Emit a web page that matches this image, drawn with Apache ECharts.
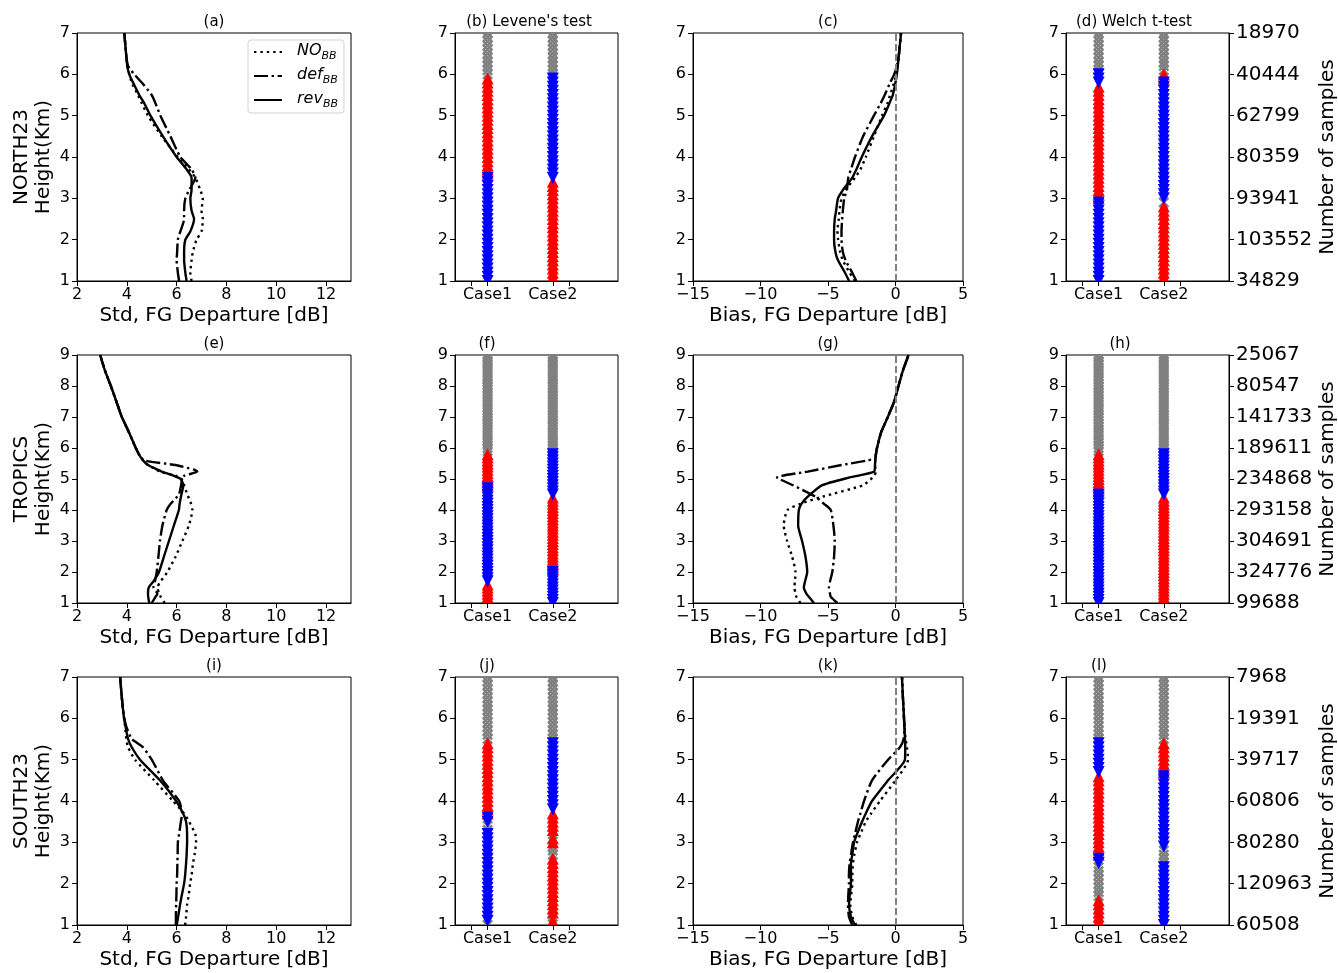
<!DOCTYPE html>
<html>
<head>
<meta charset="utf-8">
<script src="https://cdn.jsdelivr.net/npm/echarts@6/dist/echarts.min.js"></script>
<style>
html, body { margin: 0; padding: 0; background: #fff; }
#chart { width: 1338px; height: 973px; }
</style>
</head>
<body>
<div id="chart"></div>
<script>
// ---------------- data ----------------
const ROW_NAMES = ['NORTH23', 'TROPICS', 'SOUTH23'];
const PANEL_TITLES = [
  '(a)', "(b) Levene's test", '(c)', '(d) Welch t-test',
  '(e)', '(f)', '(g)', '(h)',
  '(i)', '(j)', '(k)', '(l)'
];
const CASE_NAMES = ['Case1', 'Case2'];
const CASE_POS = [1, 3];
const CASE_TICKS = [0.5, 1, 3, 3.5];
const HEIGHT_MAX = [7, 9, 7];
const STD_TICKS = [2, 4, 6, 8, 10, 12];

// number of samples per integer height (1 km, 2 km, ...)
const SAMPLES_NORTH = [34829, 103552, 93941, 80359, 62799, 40444, 18970];
const SAMPLES_TROPICS = [99688, 324776, 304691, 293158, 234868, 189611, 141733, 80547, 25067];
const SAMPLES_SOUTH = [60508, 120963, 80280, 60806, 39717, 19391, 7968];

// heights (km) of the profile points
const H_NORTH = [1.0, 1.2, 1.5, 1.7, 2.0, 2.2, 2.5, 2.7, 3.0, 3.2, 3.5, 3.7, 4.0, 4.5, 5.0, 5.3, 5.5, 5.8, 6.0, 6.2, 6.5, 7.0];
const H_SOUTH = H_NORTH;
const H_TROP_STD = [1.0, 1.2, 1.3, 1.5, 1.7, 2.0, 2.5, 3.0, 3.5, 4.0, 4.2, 4.5, 4.8, 5.0, 5.1, 5.24, 5.3, 5.45, 5.6, 5.75, 6.0, 6.5, 7.0, 7.5, 8.0, 8.5, 9.0];
const H_TROP_BIAS = [1.0, 1.2, 1.3, 1.5, 1.7, 2.0, 2.5, 3.0, 3.5, 4.0, 4.2, 4.43, 4.8, 5.05, 5.24, 5.45, 5.66, 5.8, 6.0, 6.5, 7.0, 7.5, 8.0, 8.5, 9.0];

// std of FG departure [dB]
const STD_N_NO  = [6.6, 6.55, 6.6, 6.65, 6.8, 7.0, 7.05, 7.0, 7.05, 6.95, 6.75, 6.5, 6.05, 5.4, 4.85, 4.6, 4.45, 4.2, 4.1, 4.02, 3.97, 3.9];
const STD_N_DEF = [6.1, 6.05, 6.0, 6.02, 6.05, 6.15, 6.3, 6.3, 6.35, 6.5, 6.75, 6.6, 6.15, 5.75, 5.35, 5.15, 5.0, 4.6, 4.3, 4.05, 3.97, 3.9];
const STD_N_REV = [6.4, 6.35, 6.3, 6.3, 6.35, 6.55, 6.7, 6.6, 6.55, 6.6, 6.6, 6.4, 6.0, 5.45, 4.95, 4.7, 4.5, 4.25, 4.1, 4.02, 3.97, 3.9];

const STD_T_NO  = [5.52, 5.36, 5.3, 5.23, 5.36, 5.63, 5.96, 6.23, 6.49, 6.63, 6.58, 6.43, 6.3, 6.2, 6.0, 5.3, 5.2, 4.85, 4.65, 4.52, 4.36, 4.09, 3.8, 3.58, 3.36, 3.12, 2.93];
const STD_T_DEF = [5.0, 5.15, 5.23, 5.07, 5.13, 5.2, 5.27, 5.33, 5.43, 5.6, 5.76, 6.09, 6.18, 6.22, 6.3, 6.83, 6.7, 5.95, 4.7, 4.52, 4.36, 4.09, 3.8, 3.58, 3.36, 3.12, 2.93];
const STD_T_REV = [4.9, 4.86, 4.85, 4.88, 5.07, 5.29, 5.49, 5.69, 5.89, 6.09, 6.12, 6.19, 6.27, 6.16, 5.89, 5.4, 5.23, 4.85, 4.65, 4.52, 4.36, 4.09, 3.8, 3.58, 3.36, 3.12, 2.93];

const STD_S_NO  = [6.34, 6.38, 6.42, 6.48, 6.54, 6.6, 6.66, 6.72, 6.78, 6.75, 6.5, 6.3, 5.85, 5.1, 4.33, 4.05, 3.98, 3.93, 3.89, 3.85, 3.8, 3.73];
const STD_S_DEF = [5.97, 5.97, 5.98, 5.99, 6.0, 6.02, 6.03, 6.04, 6.05, 6.1, 6.17, 6.22, 6.1, 5.45, 5.0, 4.65, 4.2, 3.98, 3.9, 3.85, 3.8, 3.73];
const STD_S_REV = [6.0, 6.06, 6.14, 6.2, 6.3, 6.34, 6.38, 6.4, 6.42, 6.42, 6.38, 6.26, 5.98, 5.33, 4.53, 4.2, 4.05, 3.95, 3.89, 3.85, 3.8, 3.73];

// bias of FG departure [dB]
const BIAS_N_NO  = [-3.0, -3.4, -3.9, -4.1, -4.25, -4.3, -4.2, -4.15, -4.0, -3.7, -3.0, -2.6, -2.2, -1.6, -1.0, -0.6, -0.4, -0.1, 0.05, 0.15, 0.26, 0.41];
const BIAS_N_DEF = [-2.9, -3.2, -3.7, -3.9, -4.0, -4.0, -3.95, -3.9, -3.8, -3.6, -3.5, -3.3, -3.0, -2.4, -1.6, -1.1, -0.8, -0.4, -0.1, 0.1, 0.26, 0.41];
const BIAS_N_REV = [-3.44, -3.74, -4.26, -4.45, -4.55, -4.55, -4.5, -4.4, -4.26, -3.9, -3.2, -2.9, -2.5, -1.74, -0.85, -0.45, -0.2, 0.0, 0.1, 0.17, 0.26, 0.41];

const BIAS_T_NO  = [-7.04, -7.34, -7.4, -7.49, -7.45, -7.41, -7.66, -8.03, -8.28, -8.0, -7.04, -5.4, -2.4, -1.7, -1.44, -1.52, -1.49, -1.45, -1.37, -1.07, -0.57, -0.1, 0.22, 0.55, 0.97];
const BIAS_T_DEF = [-4.3, -4.8, -4.85, -4.93, -4.85, -4.68, -4.55, -4.5, -4.6, -4.8, -5.3, -5.92, -7.6, -8.78, -6.5, -4.0, -1.5, -1.45, -1.37, -1.07, -0.57, -0.1, 0.22, 0.55, 0.97];
const BIAS_T_REV = [-6.04, -6.42, -6.6, -6.79, -6.7, -6.54, -6.67, -6.92, -7.21, -7.16, -6.97, -6.5, -5.42, -3.4, -1.57, -1.52, -1.49, -1.45, -1.37, -1.07, -0.57, -0.1, 0.22, 0.55, 0.97];

const BIAS_S_NO  = [-2.9, -3.2, -3.35, -3.3, -3.2, -3.2, -3.15, -3.05, -2.85, -2.6, -2.2, -1.8, -1.15, 0.0, 0.93, 0.85, 0.75, 0.66, 0.63, 0.6, 0.55, 0.48];
const BIAS_S_DEF = [-3.2, -3.45, -3.52, -3.5, -3.45, -3.45, -3.4, -3.3, -3.15, -3.0, -2.78, -2.6, -2.33, -1.74, -0.55, 0.33, 0.6, 0.66, 0.63, 0.6, 0.55, 0.48];
const BIAS_S_REV = [-3.0, -3.3, -3.44, -3.4, -3.3, -3.3, -3.3, -3.2, -3.07, -2.85, -2.48, -2.2, -1.74, -0.55, 0.7, 0.72, 0.7, 0.66, 0.63, 0.6, 0.55, 0.48];

// significance per 0.1 km level: [result, from km, to km]
// R = larger (up), B = smaller (down), G = not significant
const LEVENE_N_C1 = [['B', 1.0, 3.5], ['R', 3.6, 5.9], ['G', 6.0, 7.0]];
const LEVENE_N_C2 = [['R', 1.0, 3.4], ['B', 3.5, 5.9], ['G', 6.0, 7.0]];
const WELCH_N_C1  = [['B', 1.0, 2.9], ['R', 3.0, 5.7], ['B', 5.8, 6.0], ['G', 6.1, 7.0]];
const WELCH_N_C2  = [['R', 1.0, 2.8], ['G', 2.9, 2.9], ['B', 3.0, 5.8], ['R', 5.9, 6.0], ['G', 6.1, 7.0]];
const LEVENE_T_C1 = [['R', 1.0, 1.6], ['B', 1.7, 4.7], ['R', 4.8, 5.8], ['G', 5.9, 9.0]];
const LEVENE_T_C2 = [['B', 1.0, 2.0], ['R', 2.1, 4.4], ['B', 4.5, 5.8], ['G', 5.9, 9.0]];
const WELCH_T_C1  = [['B', 1.0, 4.5], ['R', 4.6, 5.8], ['G', 5.9, 9.0]];
const WELCH_T_C2  = [['R', 1.0, 4.4], ['B', 4.5, 5.8], ['G', 5.9, 9.0]];
const LEVENE_S_C1 = [['G', 1.0, 1.0], ['B', 1.1, 3.2], ['G', 3.3, 3.4], ['B', 3.5, 3.6], ['R', 3.7, 5.4], ['G', 5.5, 7.0]];
const LEVENE_S_C2 = [['R', 1.0, 1.1], ['G', 1.2, 1.2], ['R', 1.3, 2.6], ['G', 2.7, 2.9], ['R', 3.0, 3.1], ['G', 3.2, 3.2], ['R', 3.3, 3.7], ['B', 3.8, 5.4], ['G', 5.5, 7.0]];
const WELCH_S_C1  = [['R', 1.0, 1.6], ['G', 1.7, 2.4], ['B', 2.5, 2.6], ['R', 2.7, 4.6], ['B', 4.7, 5.4], ['G', 5.5, 7.0]];
const WELCH_S_C2  = [['B', 1.0, 2.4], ['G', 2.5, 2.8], ['B', 2.9, 4.6], ['R', 4.7, 5.4], ['G', 5.5, 7.0]];

// ---------------- layout & style ----------------
const FONT = 'DejaVu Sans';
const RED = '#ff0000', BLUE = '#0000ff', GRAY = '#808080';
const COL_LEFT = [77, 455, 693, 1066];
const COL_WIDTH = [274, 163, 270, 163];
const ROW_TOP = [33, 355, 677];
const ROW_HEIGHT = 248;
const TITLE_X = [
  [214, 529, 828, 1134],
  [214, 487, 828, 1120],
  [214, 487, 828, 1099]
];
const LINE_TYPES = { NO_BB: [2.4, 4], def_BB: [14, 3.6, 2.4, 3.6], rev_BB: 'solid' };

const SAMPLES = [SAMPLES_NORTH, SAMPLES_TROPICS, SAMPLES_SOUTH];
const PROFILE_H = [[H_NORTH, H_NORTH], [H_TROP_STD, H_TROP_BIAS], [H_SOUTH, H_SOUTH]];
const STD = [[STD_N_NO, STD_N_DEF, STD_N_REV], [STD_T_NO, STD_T_DEF, STD_T_REV], [STD_S_NO, STD_S_DEF, STD_S_REV]];
const BIAS = [[BIAS_N_NO, BIAS_N_DEF, BIAS_N_REV], [BIAS_T_NO, BIAS_T_DEF, BIAS_T_REV], [BIAS_S_NO, BIAS_S_DEF, BIAS_S_REV]];
const LEVENE = [[LEVENE_N_C1, LEVENE_N_C2], [LEVENE_T_C1, LEVENE_T_C2], [LEVENE_S_C1, LEVENE_S_C2]];
const WELCH = [[WELCH_N_C1, WELCH_N_C2], [WELCH_T_C1, WELCH_T_C2], [WELCH_S_C1, WELCH_S_C2]];
const SERIES_NAMES = ['NO_BB', 'def_BB', 'rev_BB'];

const minus = v => (v < 0 ? '\u2212' + (-v) : String(v));

// expand [result, from, to] runs into one point per 0.1 km level
function levels(runs, x, kind) {
  const out = [];
  runs.forEach(([k, a, b]) => {
    if (k !== kind) return;
    for (let t = Math.round(a * 10); t <= Math.round(b * 10); t++) out.push([x, t / 10]);
  });
  return out;
}

function markRenderer(kind) {
  return function (params, api) {
    const p = api.coord([api.value(0), api.value(1)]);
    const s = 6;
    if (kind === 'G') {
      const d = 4.6;
      return {
        type: 'group',
        children: [
          { type: 'line', shape: { x1: p[0] - d, y1: p[1] - d, x2: p[0] + d, y2: p[1] + d }, style: { stroke: GRAY, lineWidth: 2.4 } },
          { type: 'line', shape: { x1: p[0] - d, y1: p[1] + d, x2: p[0] + d, y2: p[1] - d }, style: { stroke: GRAY, lineWidth: 2.4 } }
        ]
      };
    }
    const pts = kind === 'R'
      ? [[p[0], p[1] - s], [p[0] - s, p[1] + s], [p[0] + s, p[1] + s]]
      : [[p[0], p[1] + s], [p[0] - s, p[1] - s], [p[0] + s, p[1] - s]];
    return { type: 'polygon', shape: { points: pts }, style: { fill: kind === 'R' ? RED : BLUE } };
  };
}

const grid = [], xAxis = [], yAxis = [], series = [], title = [];

for (let r = 0; r < 3; r++) {
  for (let c = 0; c < 4; c++) {
    const g = r * 4 + c;
    grid.push({
      left: COL_LEFT[c], top: ROW_TOP[r], width: COL_WIDTH[c], height: ROW_HEIGHT,
      show: true, borderColor: '#000', borderWidth: 1, backgroundColor: '#fff',
      containLabel: false, outerBoundsMode: 'none'
    });
    title.push({
      text: PANEL_TITLES[g], left: TITLE_X[r][c], top: ROW_TOP[r] - 18, textAlign: 'center',
      padding: 0,
      textStyle: { fontFamily: FONT, fontSize: 15, fontWeight: 'normal', color: '#000' }
    });

    const axisCommon = {
      gridIndex: g, type: 'value',
      axisLine: { show: true, onZero: false, lineStyle: { color: '#000', width: 1 } },
      axisTick: { show: true, length: 5, lineStyle: { color: '#000', width: 1 } },
      splitLine: { show: false },
      nameTextStyle: { fontFamily: FONT, fontSize: 20, color: '#000' }
    };

    // x axis
    if (c === 0) {
      xAxis.push(Object.assign({}, axisCommon, {
        min: 2, max: 13, interval: 2,
        axisTick: Object.assign({}, axisCommon.axisTick, { customValues: STD_TICKS }),
        axisLabel: { customValues: STD_TICKS, fontFamily: FONT, fontSize: 16, color: '#000', margin: 6 },
        name: 'Std, FG Departure [dB]', nameLocation: 'middle', nameGap: 25
      }));
    } else if (c === 2) {
      xAxis.push(Object.assign({}, axisCommon, {
        min: -15, max: 5, interval: 5,
        axisLabel: { fontFamily: FONT, fontSize: 16, color: '#000', margin: 6, formatter: minus },
        name: 'Bias, FG Departure [dB]', nameLocation: 'middle', nameGap: 25
      }));
    } else {
      xAxis.push(Object.assign({}, axisCommon, {
        min: 0, max: 5,
        axisTick: Object.assign({}, axisCommon.axisTick, { customValues: CASE_TICKS }),
        axisLabel: {
          customValues: CASE_POS, fontFamily: FONT, fontSize: 16, color: '#000', margin: 6,
          formatter: v => CASE_NAMES[CASE_POS.indexOf(Math.round(v))] || ''
        }
      }));
    }

    // left y axis
    const yLeft = Object.assign({}, axisCommon, {
      min: 1, max: HEIGHT_MAX[r], interval: 1,
      axisLabel: { fontFamily: FONT, fontSize: 16, color: '#000', margin: 7 }
    });
    if (c === 0) {
      Object.assign(yLeft, {
        name: ROW_NAMES[r] + '\nHeight(Km)', nameLocation: 'middle', nameGap: 22,
        nameTextStyle: { fontFamily: FONT, fontSize: 20, color: '#000', lineHeight: 22 }
      });
    }
    yAxis.push(yLeft);

    // profiles
    if (c === 0 || c === 2) {
      const vals = c === 0 ? STD[r] : BIAS[r];
      const hs = PROFILE_H[r][c === 0 ? 0 : 1];
      SERIES_NAMES.forEach((name, k) => {
        const s = {
          type: 'line', name, xAxisIndex: g, yAxisIndex: g,
          data: hs.map((h, i) => [vals[k][i], h]),
          symbol: 'none', showSymbol: false, smooth: 0.2, clip: true,
          lineStyle: { color: '#000', width: 2.4, type: LINE_TYPES[name], cap: 'butt' },
          itemStyle: { color: '#000' },
          z: 3
        };
        if (c === 2 && k === 0) {
          s.markLine = {
            silent: true, symbol: 'none', label: { show: false },
            lineStyle: { color: GRAY, width: 2, type: [7, 3] },
            data: [{ xAxis: 0 }]
          };
        }
        series.push(s);
      });
    } else {
      const runs = c === 1 ? LEVENE[r] : WELCH[r];
      ['G', 'R', 'B'].forEach(kind => {
        const data = [];
        runs.forEach((caseRuns, ci) => { data.push(...levels(caseRuns, CASE_POS[ci], kind)); });
        data.sort((a, b) => a[1] - b[1]);
        series.push({
          type: 'custom', xAxisIndex: g, yAxisIndex: g, clip: true, silent: true,
          encode: { x: 0, y: 1 },
          data, renderItem: markRenderer(kind), z: 2
        });
      });
    }
  }
}

// right axes: number of samples
for (let r = 0; r < 3; r++) {
  const g = r * 4 + 3;
  yAxis.push({
    gridIndex: g, type: 'value', position: 'right',
    min: 1, max: HEIGHT_MAX[r], interval: 1,
    axisLine: { show: true, onZero: false, lineStyle: { color: '#000', width: 1 } },
    axisTick: { show: true, length: 5, lineStyle: { color: '#000', width: 1 } },
    splitLine: { show: false },
    axisLabel: {
      fontFamily: FONT, fontSize: 20, color: '#000', margin: 7,
      formatter: v => String(SAMPLES[r][Math.round(v) - 1])
    },
    name: 'Number of samples', nameLocation: 'middle', nameGap: 89, nameRotate: 90,
    nameTextStyle: { fontFamily: FONT, fontSize: 20, color: '#000' }
  });
}

const option = {
  animation: false,
  backgroundColor: '#fff',
  textStyle: { fontFamily: FONT },
  title,
  grid, xAxis, yAxis, series,
  legend: {
    data: SERIES_NAMES,
    orient: 'vertical', left: 248, top: 40,
    padding: [3, 6, 3, 5],
    itemWidth: 28, itemHeight: 14, itemGap: 5,
    borderColor: '#d3d3d3', borderWidth: 1, borderRadius: 3, backgroundColor: '#fff',
    selectedMode: false,
    itemStyle: { color: 'rgba(0,0,0,0)', borderWidth: 0 },
    formatter: n => {
      const i = n.indexOf('_');
      return '{m|' + n.slice(0, i) + '}{s|' + n.slice(i + 1) + '}';
    },
    textStyle: {
      color: '#000',
      rich: {
        m: { fontFamily: FONT, fontSize: 16, fontStyle: 'italic', color: '#000', lineHeight: 18, verticalAlign: 'top', padding: [0, 0, 0, 10] },
        s: { fontFamily: FONT, fontSize: 11, fontStyle: 'italic', color: '#000', lineHeight: 11, verticalAlign: 'top', padding: [8, 0, 0, 0] }
      }
    }
  }
};

const chart = echarts.init(document.getElementById('chart'), null, { renderer: 'canvas' });
chart.setOption(option);
</script>
</body>
</html>
